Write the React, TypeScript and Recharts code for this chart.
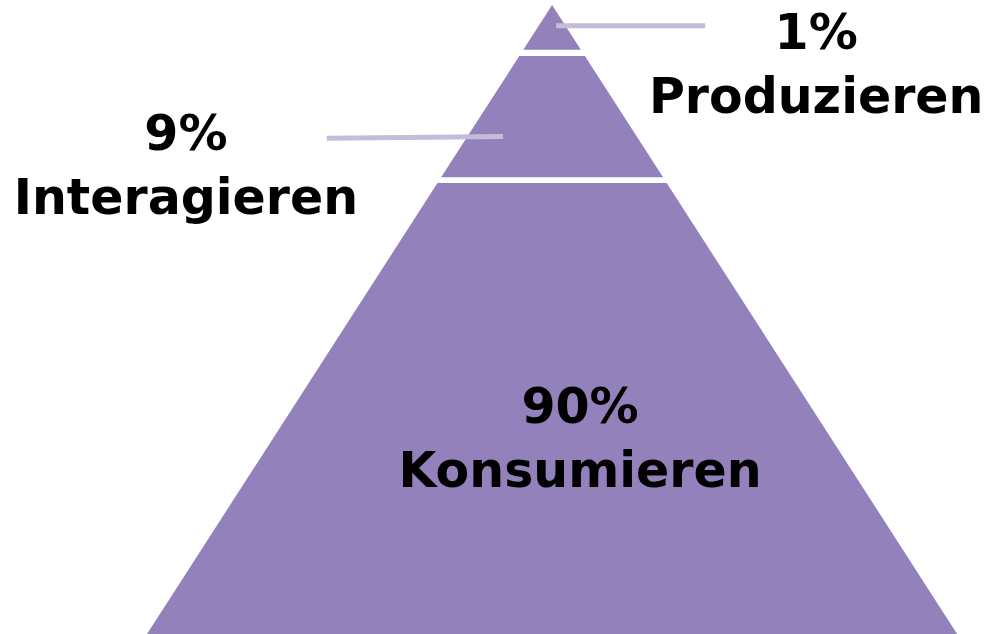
import { ComposedChart, Area, XAxis, YAxis, ReferenceLine, Scatter } from 'recharts';

// tiers of the participation pyramid, top to bottom
const tiers = ['Produzieren', 'Interagieren', 'Konsumieren'];
const shares = [1, 9, 90];
// vertical extent of each tier, as % of pyramid height measured from the apex
const tierTop = [0, 8.1, 28.3];
const tierBottom = [7.1, 27.4, 100];

// label anchors (chart units: x = half-widths of the base, y = depth from apex)
const labelX = [65.2, -90.4, 6.9];
const labelY = [7.0, 23.05, 66.5];

// leader lines from the side labels into the pyramid
const leaders = [
  [{ x: 1.0, y: 3.3 }, { x: 37.8, y: 3.3 }],
  [{ x: -55.6, y: 21.2 }, { x: -12.1, y: 20.9 }],
];

const FILL = '#9381bb';
const LEADER = '#c4bcd8';
const FONT = '"DejaVu Sans", sans-serif';

// a band of the triangle: half-width equals depth, so the edges are |x| = depth
function bandData(t: number, b: number) {
  return [
    { x: -b, range: [b, b] },
    { x: -t, range: [t, b] },
    { x: t, range: [t, b] },
    { x: b, range: [b, b] },
  ];
}

const labels = tiers.map((name, i) => ({
  x: labelX[i],
  y: labelY[i],
  name,
  share: shares[i],
}));

function TierLabel(props: any) {
  const { cx, cy, payload } = props;
  return (
    <g>
      <text x={cx} y={cy} textAnchor="middle" fontFamily={FONT} fontWeight="bold" fontSize={49} fill="#000">
        {payload.share}%
      </text>
      <text x={cx} y={cy + 64} textAnchor="middle" fontFamily={FONT} fontWeight="bold" fontSize={49} fill="#000">
        {payload.name}
      </text>
    </g>
  );
}

export default function App() {
  return (
    <div style={{ position: 'absolute', left: 0, top: 0, background: '#fff' }}>
      <ComposedChart width={994} height={634} margin={{ top: 0, right: 0, bottom: 0, left: 0 }}>
        <XAxis type="number" dataKey="x" domain={[-136.3, 109.1]} allowDataOverflow hide />
        <YAxis type="number" dataKey="y" domain={[-0.8, 100]} reversed allowDataOverflow hide />

        {tiers.map((name, i) => (
          <Area
            key={name}
            data={bandData(tierTop[i], tierBottom[i])}
            dataKey="range"
            type="linear"
            fill={FILL}
            fillOpacity={1}
            stroke="none"
            dot={false}
            activeDot={false}
            isAnimationActive={false}
          />
        ))}

        {leaders.map((seg, i) => (
          <ReferenceLine key={`leader-${i}`} segment={seg} stroke={LEADER} strokeWidth={5} />
        ))}

        <Scatter data={labels} shape={TierLabel} isAnimationActive={false} />
      </ComposedChart>
    </div>
  );
}
